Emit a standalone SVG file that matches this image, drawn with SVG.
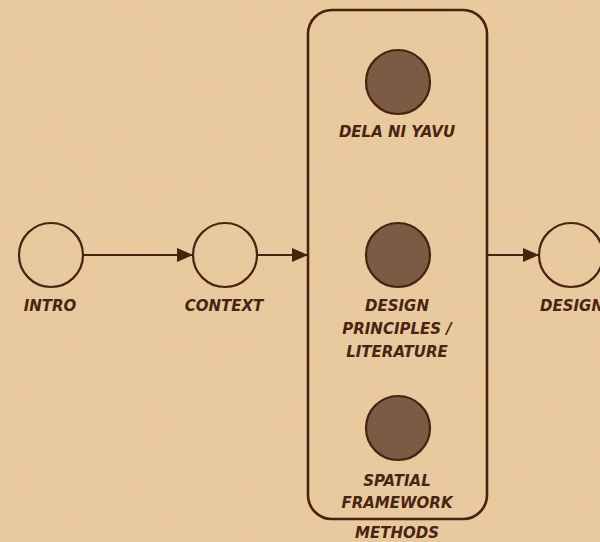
<svg xmlns="http://www.w3.org/2000/svg" width="600" height="542" viewBox="0 0 600 542">
  <defs>
    <style>
      .ring { fill: none; stroke: #4a2210; stroke-width: 2.2; }
      .dot { fill: #7c5a43; stroke: #4a2210; stroke-width: 2.2; }
      .frame { fill: none; stroke: #4a2210; stroke-width: 2.6; }
      .link { stroke: #4a2210; stroke-width: 1.8; fill: none; marker-end: url(#head); }
      .label { font-family: "DejaVu Sans", "Liberation Sans", sans-serif; font-weight: bold; font-style: italic; font-size: 15px; fill: #4a2410; text-anchor: middle; }
    </style>
    <marker id="head" viewBox="0 0 16 14" refX="16" refY="7" markerWidth="16" markerHeight="14" markerUnits="userSpaceOnUse" orient="auto">
      <path d="M0,0 L16,7 L0,14 Z" fill="#4a2210"/>
    </marker>
    <filter id="grain" x="0" y="0" width="100%" height="100%">
      <feTurbulence type="fractalNoise" baseFrequency="0.03" numOctaves="3" seed="7" result="n"/>
      <feColorMatrix in="n" type="matrix" values="0 0 0 0 0.80  0 0 0 0 0.60  0 0 0 0 0.40  0 0 0 1.6 -0.6"/>
    </filter>
  </defs>

  <!-- paper background -->
  <rect width="600" height="542" fill="#e9c99d"/>
  <rect width="600" height="542" filter="url(#grain)" opacity="0.6"/>

  <!-- connectors -->
  <g id="connectors">
    <line class="link" x1="83" y1="255" x2="193" y2="255"/>
    <line class="link" x1="257" y1="255" x2="308" y2="255"/>
    <line class="link" x1="487" y1="255" x2="539" y2="255"/>
  </g>

  <g id="intro">
    <circle class="ring" cx="51" cy="255" r="32"/>
    <text class="label" x="50" y="311">INTRO</text>
  </g>

  <g id="context">
    <circle class="ring" cx="225" cy="255" r="32"/>
    <text class="label" x="224" y="311">CONTEXT</text>
  </g>

  <g id="methods">
    <rect class="frame" x="308" y="10" width="179" height="509" rx="24"/>
    <text class="label" x="397" y="538">METHODS</text>
  </g>

  <g id="dela-ni-yavu">
    <circle class="dot" cx="398" cy="82" r="32"/>
    <text class="label" x="397" y="137">DELA NI YAVU</text>
  </g>

  <g id="design-principles">
    <circle class="dot" cx="398" cy="255" r="32"/>
    <text class="label" x="397" y="311">DESIGN</text>
    <text class="label" x="397" y="334">PRINCIPLES /</text>
    <text class="label" x="397" y="357">LITERATURE</text>
  </g>

  <g id="spatial-framework">
    <circle class="dot" cx="398" cy="428" r="32"/>
    <text class="label" x="397" y="486">SPATIAL</text>
    <text class="label" x="397" y="508">FRAMEWORK</text>
  </g>

  <g id="design">
    <circle class="ring" cx="571" cy="255" r="32"/>
    <text class="label" x="572" y="311">DESIGN</text>
  </g>
</svg>
